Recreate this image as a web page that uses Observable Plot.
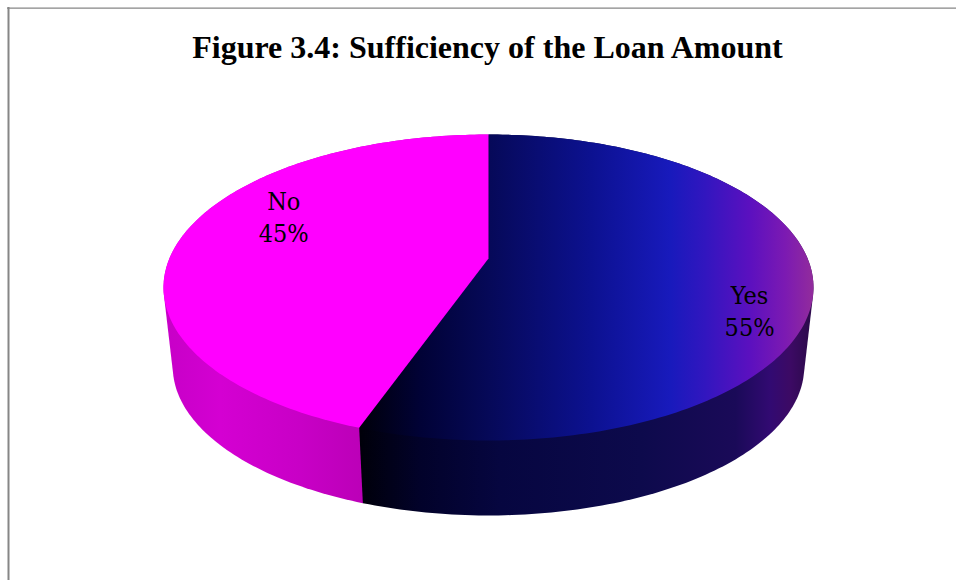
<!DOCTYPE html>
<html>
<head>
<meta charset="utf-8">
<script src="https://cdn.jsdelivr.net/npm/d3@7"></script>
<script src="https://cdn.jsdelivr.net/npm/@observablehq/plot@0.6"></script>
<style>
html,body{margin:0;padding:0;background:#fff;}
svg{display:block;}
</style>
</head>
<body>
<div id="chart"></div>
<script>
const titleText = "Figure 3.4: Sufficiency of the Loan Amount";
const categories = ["Yes", "No"];
const shares = [55.4, 44.6];

// Perspective view of the round pie (in chart-space units equal to pixels)
const view = {cx: 488, p: 0.1896};
const topFace = {A: 319.1, B: 147.5, y0: 258};
const baseFace = {A: 310, B: 143.4, y0: 338};
const labelSpot = {Yes: {angle: 113, r: 0.834}, No: {angle: 294.3, r: 0.745}};

const gradients = {
  yesTop: [[357,"#000008"],[420,"#010236"],[488,"#060958"],[590,"#0c1190"],[670,"#181abc"],[705,"#3216bf"],[750,"#5c10bf"],[785,"#7c1ab2"],[813,"#922c9c"]],
  yesWall: [[360,"#00000a"],[420,"#02022a"],[500,"#060640"],[640,"#0d0a4c"],[735,"#1a0a58"],[770,"#320a72"],[790,"#3c0a64"],[808,"#2e0a4e"]],
  noWall: [[170,"#c800c8"],[220,"#d400d2"],[300,"#c800c6"],[360,"#bc00b8"]]
};

function project(face, angleDeg, r = 1) {
  const t = angleDeg * Math.PI / 180;
  const d = 1 + view.p * r * Math.cos(t);
  return {x: view.cx + face.A * r * Math.sin(t) / d, y: face.y0 - face.B * r * Math.cos(t) / d};
}
function arc(face, a0, a1) {
  const n = Math.ceil(Math.abs(a1 - a0));
  return d3.range(n + 1).map(i => project(face, a0 + (a1 - a0) * i / n));
}
const total = d3.sum(shares);
let acc = 0;
const slices = categories.map((name, i) => {
  const a0 = acc / total * 360;
  acc += shares[i];
  return {name, share: shares[i], a0, a1: acc / total * 360};
});
const topPolygon = s => [project(topFace, 0, 0), ...arc(topFace, s.a0, s.a1)];
// The side wall is the convex hull of the slice's upper and lower rims; the top faces cover its back.
const wallPolygon = s => d3.polygonHull(
  [...arc(topFace, s.a0, s.a1), ...arc(baseFace, s.a0, s.a1)].map(d => [d.x, d.y])
).map(([x, y]) => ({x, y}));

const defs = () => {
  const d = d3.create("svg:defs");
  for (const [id, stops] of Object.entries(gradients)) {
    const x0 = stops[0][0], x1 = stops[stops.length - 1][0];
    const g = d.append("linearGradient").attr("id", id)
      .attr("gradientUnits", "userSpaceOnUse")
      .attr("x1", x0).attr("x2", x1)
      .attr("y1", 0).attr("y2", 0);
    for (const [x, c] of stops) {
      g.append("stop").attr("offset", (x - x0) / (x1 - x0)).attr("stop-color", c);
    }
  }
  return d.node();
};

const yes = slices[0], no = slices[1];
const labels = slices.map(s => {
  const spot = labelSpot[s.name];
  const pos = project(topFace, spot.angle, spot.r);
  return {...pos, text: `${s.name}\n${Math.round(s.share)}%`};
});

const chart = Plot.plot({
  width: 956,
  height: 580,
  margin: 0,
  x: {domain: [0, 956], range: [0, 956], axis: null},
  y: {domain: [0, 580], range: [0, 580], axis: null},
  style: {background: "#fff"},
  marks: [
    defs,
    Plot.ruleX([8], {y1: 7, y2: 580, stroke: "#868686", strokeWidth: 2}),
    Plot.ruleY([7.6], {x1: 7, x2: 956, stroke: "#868686", strokeWidth: 1.4}),
    Plot.line(wallPolygon(no), {x: "x", y: "y", fill: "url(#noWall)", stroke: "none"}),
    Plot.line(wallPolygon(yes), {x: "x", y: "y", fill: "url(#yesWall)", stroke: "none"}),
    Plot.line(topPolygon(yes), {x: "x", y: "y", fill: "url(#yesTop)", stroke: "none"}),
    Plot.line(topPolygon(no), {x: "x", y: "y", fill: "#ff00ff", stroke: "none"}),
    Plot.text(labels, {
      x: "x", y: "y", text: "text",
      fontFamily: "DejaVu Serif", fontSize: 25, lineHeight: 1.28,
      fill: "#000", stroke: "none", textAnchor: "middle"
    }),
    Plot.text([titleText], {
      frameAnchor: "top", dx: 9, dy: 35,
      fontFamily: "Liberation Serif", fontWeight: "bold", fontSize: 32, fill: "#000"
    })
  ]
});
d3.select(chart).selectAll("text").filter(function () {
  return this.closest("g[font-size='25']") !== null;
}).style("font-stretch", "condensed");
document.getElementById("chart").appendChild(chart);
</script>
</body>
</html>
